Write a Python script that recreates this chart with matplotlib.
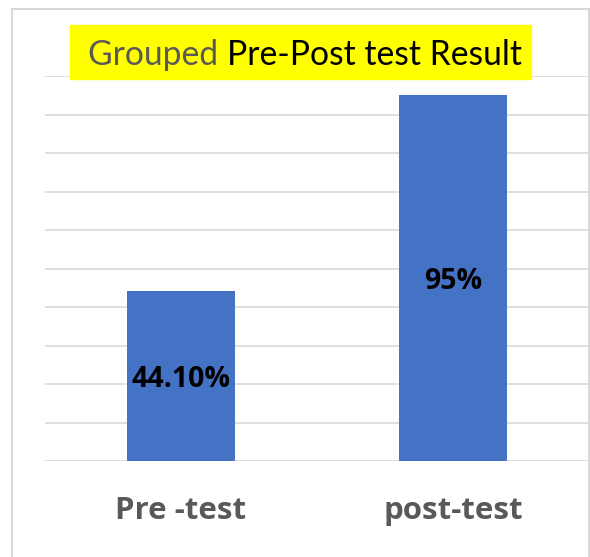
import matplotlib
matplotlib.use("Agg")
import matplotlib.pyplot as plt
from matplotlib.patches import Rectangle
from matplotlib.lines import Line2D

plt.rcParams['font.family'] = ['Lato', 'DejaVu Sans']
BOLD_FAMILY = ['Open Sans', 'DejaVu Sans']

categories = ["Pre -test", "post-test"]
values = [44.10, 95]
value_labels = ["44.10%", "95%"]

W, H = 590, 557
GRID = "#d9d9d9"
GRAY = "#595959"
BLUE = "#4472C4"

fig = plt.figure(figsize=(W / 100, H / 100), dpi=100)
ax = fig.add_axes([45 / W, 1 - 461 / H, (589 - 45) / W, (461 - 76) / H])

x = range(len(categories))
bars = ax.bar(x, values, width=0.4, color=BLUE, zorder=2)
for b, lab in zip(bars, value_labels):
    ax.annotate(lab, (b.get_x() + b.get_width() / 2, b.get_height() / 2),
                xytext=(0, -2.5), textcoords='offset points',
                ha='center', va='center', fontsize=20.5, fontweight='bold',
                family=BOLD_FAMILY, color='black', zorder=3)

ax.set_xlim(-0.5, 1.5)
ax.set_ylim(0, 100)
ax.set_yticks(range(0, 101, 10))
ax.set_yticklabels([])
ax.tick_params(axis='y', length=0)
ax.grid(axis='y', color=GRID, linewidth=1.2, zorder=0)
ax.set_xticks(list(x))
ax.set_xticklabels(categories, fontsize=22.5, fontweight='bold', color=GRAY,
                   family=BOLD_FAMILY)
ax.tick_params(axis='x', length=0, pad=25)
for s in ax.spines.values():
    s.set_visible(False)

# chart frame
for xs, ys in [((12, 12), (0, 548)), ((12, 589), (548, 548)), ((589, 589), (0, 548))]:
    fig.add_artist(Line2D([v / W for v in xs], [v / H for v in ys],
                          color=GRID, linewidth=1.5))

# title with yellow highlight
fig.add_artist(Rectangle((70 / W, 1 - 79 / H), (531 - 70) / W, (79 - 25) / H,
                         transform=fig.transFigure, color='yellow', zorder=5))
t1 = fig.text(88 / W, 1 - 65 / H, "Grouped ", fontsize=24.2, color=GRAY,
              va='baseline', ha='left', zorder=6)
fig.canvas.draw()
x1 = t1.get_window_extent().x1
fig.text(x1 / W, 1 - 65 / H, "Pre-Post test Result", fontsize=24.2,
         color='black', va='baseline', ha='left', zorder=6)

fig.savefig("out.png", dpi=100)
